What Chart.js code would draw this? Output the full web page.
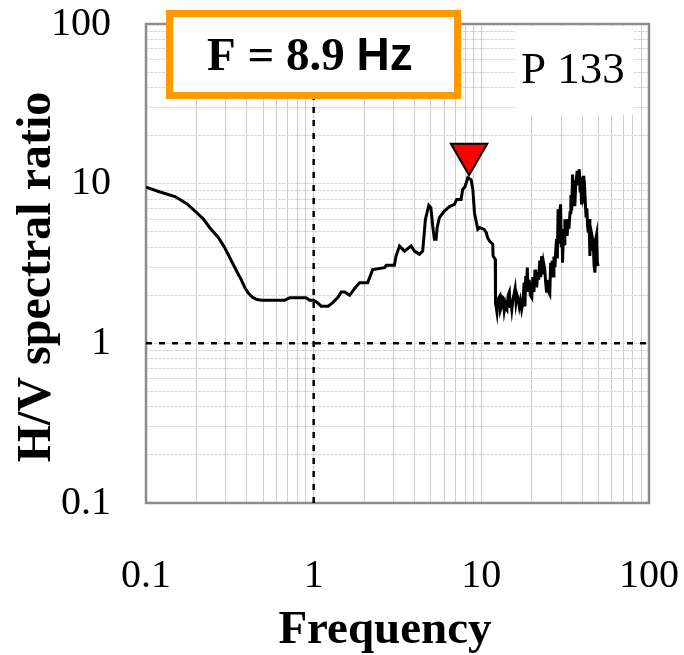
<!DOCTYPE html>
<html>
<head>
<meta charset="utf-8">
<script src="https://cdn.jsdelivr.net/npm/chart.js@4.4.1/dist/chart.umd.min.js"></script>
<style>
  html, body { margin: 0; padding: 0; background: #fff; }
  canvas { display: block; }
</style>
</head>
<body>
<canvas id="hv-chart" width="684" height="655"></canvas>
<script>
// H/V curve (frequency in Hz, spectral ratio)
const freq = [
  0.1, 0.12, 0.149, 0.175, 0.196, 0.22, 0.24, 0.27, 0.295, 0.32, 0.347, 0.37, 0.389, 0.41, 0.435,
  0.46, 0.489, 0.55, 0.62, 0.672, 0.72, 0.8, 0.9, 0.946, 1.0, 1.05, 1.11, 1.22, 1.3, 1.4, 1.46,
  1.53, 1.64, 1.75, 1.88, 2.1, 2.25, 2.65, 2.71, 3.03, 3.1, 3.25,
  3.48, 3.81, 3.99, 4.27, 4.47, 4.64, 4.86, 5.0, 5.13, 5.25, 5.37, 5.45, 5.62, 6.02, 6.45, 6.91,
  7.13, 7.57, 7.74, 8.0, 8.3, 8.69, 8.9, 9.1, 9.53, 9.8, 10.4, 10.7, 10.9, 11.2, 11.7, 11.75,
  12.1, 12.15, 12.4, 12.6, 12.9, 13.0, 13.2, 13.35, 13.5, 13.7, 13.9, 14.05, 14.2, 14.45, 14.7,
  14.85, 15.0, 15.2, 15.45, 15.7, 15.9, 16.1, 16.35, 16.6, 16.85, 17.1, 17.4, 17.7, 18.0, 18.2,
  18.4, 18.6, 18.8, 19.0, 19.3, 19.6, 20.0, 20.3, 20.6, 20.9, 21.1, 21.4, 21.7, 22.0, 22.3, 22.6,
  22.9, 23.2, 23.5, 23.9, 24.2, 24.5, 24.9, 25.2, 25.6, 25.9, 26.2, 26.5, 26.8, 27.1, 27.5, 27.8,
  28.1, 28.4, 28.7, 29.0, 29.3, 29.7, 30.0, 30.3, 30.5, 30.9, 31.2, 31.5, 31.9, 32.2, 32.5, 32.9,
  33.3, 33.8, 34.2, 34.6, 35.0, 35.4, 35.8, 36.1, 36.5, 36.9, 37.3, 37.7, 38.0, 38.4, 38.8, 39.2,
  39.6, 40.0, 40.5, 40.9, 41.4, 42.1, 42.6, 43.0, 43.4, 43.9, 44.4, 44.9, 45.4, 45.9, 46.5, 47.0,
  47.6, 48.1, 48.7, 49.2, 49.8
];
const hvRatio = [
  9.5, 8.9, 8.3, 7.5, 6.74, 6.0, 5.3, 4.6, 3.97, 3.35, 2.84, 2.5, 2.23, 2.05, 1.93,
  1.88, 1.86, 1.86, 1.86, 1.86, 1.93, 1.93, 1.93, 1.86, 1.86, 1.8, 1.71, 1.71, 1.8, 1.95, 2.1,
  2.1, 2.0, 2.2, 2.4, 2.4, 2.9, 2.98, 3.08, 3.08, 3.52, 4.07,
  3.78, 4.07, 3.78, 3.61, 3.78, 5.98, 7.31, 7.07, 5.43, 4.48, 4.48, 5.3, 6.12, 6.74, 7.18, 7.42,
  7.97, 7.97, 9.2, 9.6, 10.9, 10.6, 9.2, 6.58, 5.17, 5.3, 5.17, 4.93, 4.59, 4.37, 4.17, 3.52,
  3.36, 1.8, 1.56, 1.9, 1.98, 1.62, 1.71, 1.95, 1.93, 1.6, 1.75, 1.66, 1.63, 2.0, 2.1,
  1.7, 1.85, 1.63, 1.9, 2.05, 2.2, 1.8, 2.0, 1.89, 1.7, 1.85, 1.63, 1.8, 2.4, 1.7,
  2.64, 2.2, 2.98, 2.1, 2.5, 2.0, 1.93, 2.6, 2.1, 2.9, 2.3, 2.29, 2.8, 2.5, 3.3, 2.6,
  3.52, 2.7, 3.2, 2.9, 2.4, 2.08, 2.5, 2.1, 2.03, 3.2, 2.8, 3.3, 2.64, 3.5, 3.0, 3.88,
  4.5, 3.4, 6.9, 4.2, 6.5, 7.42, 4.0, 5.2, 3.2, 5.0, 4.2, 5.98, 4.8, 5.5, 4.7, 6.0,
  5.2, 6.58, 8.5, 6.8, 11.4, 8.0, 10.5, 7.24, 9.5, 10.8, 12.0, 9.8, 11.5, 12.3, 9.0, 11.0,
  7.42, 9.6, 11.2, 8.5, 9.0, 6.27, 7.0, 5.5, 4.93, 6.0, 3.52, 5.0, 3.8, 4.6, 4.27, 3.1,
  2.77, 4.5, 4.82, 3.2, 3.05
];

// peak marker (drawn just above the peak)
const peakFreq = [8.45];
const peakMarkerY = [15.3];

// axis ranges, grid steps and labelled decades
const xRange = [0.1, 100];
const yRange = [0.1, 100];
const decades = [0.1, 1, 10];
const gridSteps = [1, 2, 3, 4, 5, 6, 7, 8, 9];
const labelledTicks = [0.1, 1, 10, 100];

const xTitle = 'Frequency';
const yTitle = 'H/V spectral ratio';
const peakLabel = 'F = 8.9 ';
const peakUnit = 'Hz';
const siteLabel = 'P 133';

const gridValues = [];
decades.forEach(d => gridSteps.forEach(s => gridValues.push(+(d * s).toPrecision(3))));
gridValues.push(100);

const curvePoints = freq.map((f, i) => ({ x: f, y: hvRatio[i] }));
const markerPoints = peakFreq.map((f, i) => ({ x: f, y: peakMarkerY[i] }));

function logTicks(scale) {
  scale.ticks = gridValues.map(v => ({ value: v }));
}
function tickLabel(value) {
  return labelledTicks.some(t => Math.abs(t - value) < 1e-9) ? String(value) : '';
}
// no extra room for label overhang: the plot area is placed by the layout padding
function noOverhang(scale) {
  scale.paddingTop = 0;
  scale.paddingBottom = 0;
  scale.paddingLeft = 0;
  scale.paddingRight = 0;
}

const overlays = {
  id: 'overlays',
  beforeDatasetsDraw(chart) {
    const { ctx, chartArea: a } = chart;
    ctx.save();
    ctx.strokeStyle = '#8c8c8c';
    ctx.lineWidth = 2.5;
    ctx.strokeRect(a.left, a.top, a.right - a.left, a.bottom - a.top);
    ctx.restore();
  },
  afterDraw(chart) {
    const { ctx, chartArea: a } = chart;
    ctx.save();
    ctx.textBaseline = 'alphabetic';

    // axis titles (placed as in the original, a bit off the plot centre)
    ctx.fillStyle = '#000';
    ctx.textAlign = 'center';
    ctx.font = 'bold 47px "Liberation Serif"';
    ctx.fillText(xTitle, 385, 643);
    ctx.save();
    ctx.translate(50, 277);
    ctx.rotate(-Math.PI / 2);
    ctx.font = 'bold 48px "Liberation Serif"';
    ctx.fillText(yTitle, 0, 0);
    ctx.restore();

    // site label box (white, hides the grid)
    ctx.textAlign = 'left';
    ctx.fillStyle = '#fff';
    ctx.fillRect(515, a.top + 2, 118, 89);
    ctx.fillStyle = '#000';
    ctx.font = '45px "Liberation Serif"';
    ctx.fillText(siteLabel, 521, 83);

    // frequency box with orange border
    ctx.fillStyle = '#fff';
    ctx.fillRect(169, 13, 289, 83);
    ctx.strokeStyle = '#ff9900';
    ctx.lineWidth = 7;
    ctx.strokeRect(169.5, 13.5, 288, 82);
    ctx.fillStyle = '#000';
    ctx.font = 'bold 47px "Liberation Serif"';
    ctx.fillText(peakLabel, 207, 70);
    const w = ctx.measureText(peakLabel).width;
    ctx.font = 'bold 46px "Liberation Sans"';
    ctx.fillText(peakUnit, 207 + w, 70);
    ctx.restore();
  }
};

new Chart(document.getElementById('hv-chart').getContext('2d'), {
  type: 'scatter',
  data: {
    datasets: [
      {
        label: 'Peak',
        data: markerPoints,
        pointStyle: 'triangle',
        rotation: 180,
        pointRadius: 21,
        pointBackgroundColor: '#ff0000',
        pointBorderColor: '#000',
        pointBorderWidth: 2,
        showLine: false,
        clip: false,
      },
      {
        label: 'H/V',
        data: curvePoints,
        showLine: true,
        borderColor: '#000',
        borderWidth: 3,
        pointRadius: 0,
        tension: 0,
      },
      {
        label: 'f = 1',
        data: [{ x: 1, y: yRange[0] }, { x: 1, y: yRange[1] }],
        showLine: true,
        borderColor: '#000',
        borderWidth: 2.5,
        borderDash: [6, 7],
        pointRadius: 0,
      },
      {
        label: 'H/V = 1',
        data: [{ x: xRange[0], y: 1 }, { x: xRange[1], y: 1 }],
        showLine: true,
        borderColor: '#000',
        borderWidth: 2.5,
        borderDash: [6, 7],
        pointRadius: 0,
      },
    ],
  },
  options: {
    responsive: false,
    animation: false,
    layout: { padding: { top: 24, right: 35, left: 0, bottom: 0 } },
    plugins: {
      legend: { display: false },
      tooltip: { enabled: false },
    },
    scales: {
      x: {
        type: 'logarithmic',
        min: xRange[0],
        max: xRange[1],
        afterBuildTicks: logTicks,
        afterFit: scale => { scale.height = 152; noOverhang(scale); },
        grid: { color: '#cfcfcf', lineWidth: 1, drawTicks: false },
        border: { display: false },
        ticks: {
          autoSkip: false,
          maxRotation: 0,
          padding: 49,
          color: '#000',
          font: { family: 'Liberation Serif', size: 40 },
          callback: tickLabel,
        },
        title: { display: false },
      },
      y: {
        type: 'logarithmic',
        min: yRange[0],
        max: yRange[1],
        afterBuildTicks: logTicks,
        afterFit: scale => { scale.width = 146; noOverhang(scale); },
        grid: { color: '#d6d6d6', lineWidth: 1, drawTicks: false },
        border: { display: false, dash: [3, 1] },
        ticks: {
          autoSkip: false,
          padding: 35,
          color: '#000',
          font: { family: 'Liberation Serif', size: 40 },
          callback: tickLabel,
        },
        title: { display: false },
      },
    },
  },
  plugins: [overlays],
});
</script>
</body>
</html>
